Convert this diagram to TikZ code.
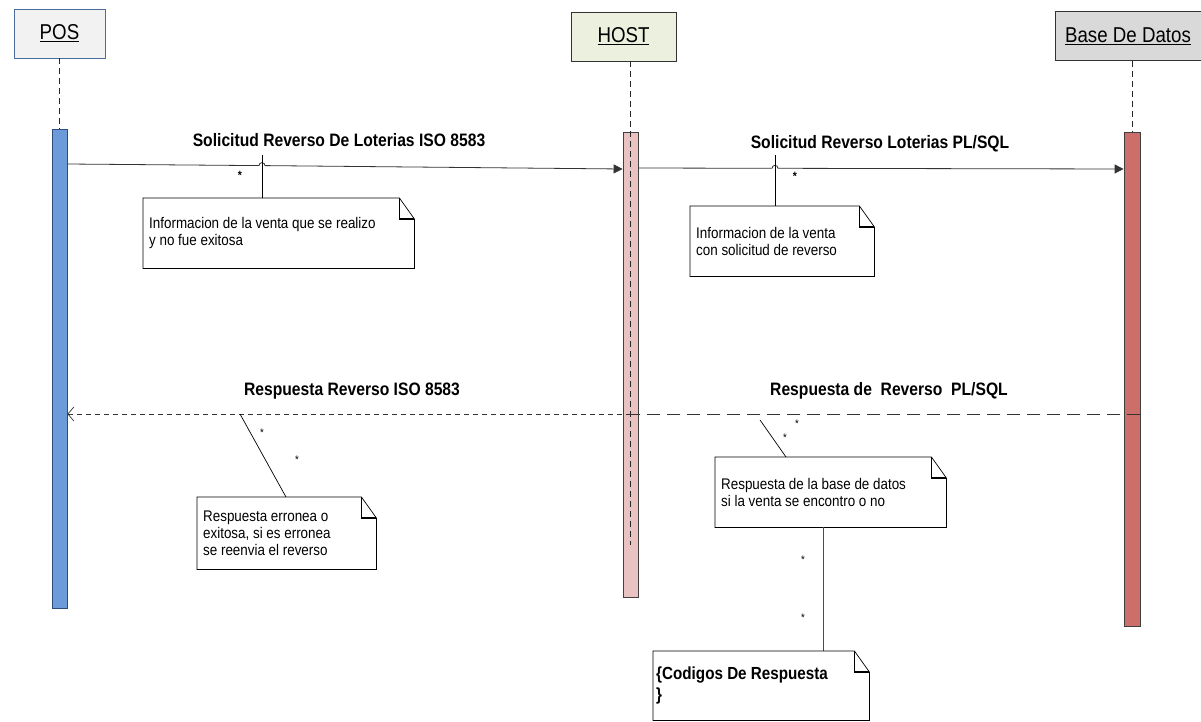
\documentclass[tikz,border=0pt]{standalone}
\usepackage{fontspec}
\setmainfont[FakeStretch=0.87]{Liberation Sans}
\usetikzlibrary{arrows.meta,calc}
\definecolor{posfill}{HTML}{F2F2F2}
\definecolor{posdraw}{HTML}{4A6D9C}
\definecolor{hostfill}{HTML}{EBF1DE}
\definecolor{dbfill}{HTML}{D9D9D9}
\definecolor{posbarfill}{HTML}{6C9BD9}
\definecolor{posbardraw}{HTML}{2F4C7A}
\definecolor{hostbarfill}{HTML}{E8C3C2}
\definecolor{dbbarfill}{HTML}{CC6F6A}
\definecolor{msgline}{HTML}{333333}
\tikzset{
  head/.style={draw=black!80, line width=0.8pt, minimum height=49pt, inner sep=0pt, font=\fontsize{21.5}{24}\selectfont},
  actbar/.style={draw=black!75, line width=0.8pt, minimum width=15pt, inner sep=0pt},
  lifeline/.style={dashed, dash pattern=on 6pt off 4pt, line width=0.7pt, draw=black!85},
  msg/.style={draw=msgline, line width=0.8pt},
  msglabel/.style={font=\bfseries\fontsize{18}{20}\selectfont, inner sep=0pt},
  notearea/.style={draw=none, inner sep=0pt, anchor=north west},
  notetext/.style={anchor=west, align=left, inner sep=0pt, font=\fontsize{15.4}{17}\selectfont},
  noteline/.style={draw=black, line width=0.7pt},
  star/.style={font=\fontsize{11}{11}\selectfont, inner sep=0pt},
}
\newcommand\drawnote[1]{%
  \draw[noteline, fill=white] (#1.north west) -- ([xshift=-15pt]#1.north east) -- ([yshift=-21pt]#1.north east) -- (#1.south east) -- (#1.south west) -- cycle;
  \draw[line width=1.3pt] ([xshift=-15pt]#1.north east) -- ([xshift=-15pt,yshift=-21pt]#1.north east) -- ([yshift=-21pt]#1.north east);
}
\begin{document}
\begin{tikzpicture}[x=1pt,y=-1pt]
\useasboundingbox (0,0) rectangle (1201,722);
% heads
\node[head, fill=posfill, draw=posdraw, minimum width=91pt] (pos) at (59.5,33.5) {\underline{POS}};
\node[head, fill=hostfill, minimum width=105pt] (host) at (623.5,36.5) {\underline{HOST}};
\node[head, fill=dbfill, minimum width=146pt] (db) at (1128,36) {\underline{Base De Datos}};
% bars
\node[actbar, fill=posbarfill, draw=posbardraw, minimum height=479pt] (posbar) at (59.5,368.5) {};
\node[actbar, fill=hostbarfill, minimum height=465pt] (hostbar) at (630.5,364.5) {};
\node[actbar, fill=dbbarfill, minimum height=494pt, minimum width=16pt] (dbbar) at (1132,379) {};
% lifelines
\draw[lifeline] (pos.south -| posbar) -- (posbar.north);
\coordinate (hostend) at (630.5,545);
\draw[lifeline] (host.south -| hostbar) -- (hostend);
\draw[lifeline] (db.south -| dbbar) -- (dbbar.north);
% message 1
\coordinate (m1a) at (0,164);
\coordinate (m1b) at (0,169);
\draw[msg, -{Triangle[length=9pt,width=9pt]}] (posbar.east |- m1a) -- (259,165.6) arc[start angle=180,end angle=0,radius=3pt] -- (hostbar.west |- m1b);
\node[msglabel] (l1) at (339,140) {Solicitud Reverso De Loterias ISO 8583};
% message 2
\coordinate (m2a) at (0,168);
\coordinate (m2b) at (0,169);
\draw[msg, -{Triangle[length=9pt,width=9pt]}] (hostbar.east |- m2a) -- (772,168.3) arc[start angle=180,end angle=0,radius=3pt] -- (dbbar.west |- m2b);
\node[msglabel] (l2) at (880,144) {Solicitud Reverso Loterias PL/SQL};
% return messages
\coordinate (r) at (0,414);
\draw[msg, dash pattern=on 13pt off 7pt] (dbbar.east |- r) -- (hostbar |- r);
\draw[msg, line width=0.7pt, dash pattern=on 5pt off 4pt, -{Straight Barb[length=6pt,width=14pt]}] (hostbar |- r) -- (posbar.east |- r);
\node[msglabel] (l3) at (352,391) {Respuesta Reverso ISO 8583};
\node[msglabel] (l4) at (889,391) {Respuesta de\ \ Reverso\ \ PL/SQL};
% note 1
\node[notearea, minimum width=271pt, minimum height=70pt] (n1) at (143,198) {};
\coordinate (c1) at (262,155);
\draw[noteline] (c1) -- (c1 |- n1.north);
\drawnote{n1}
\node[notetext] (t1) at ([xshift=6pt]n1.west) {Informacion de la venta que se realizo\\y no fue exitosa};
\node[star, font=\bfseries\fontsize{12}{12}\selectfont] (s1) at (240,175) {*};
% note 2
\node[notearea, minimum width=184pt, minimum height=70pt] (n2) at (690,206) {};
\coordinate (c2) at (775,155);
\draw[noteline] (c2) -- (c2 |- n2.north);
\drawnote{n2}
\node[notetext] (t2) at ([xshift=6pt]n2.west) {Informacion de la venta\\con solicitud de reverso};
\node[star, font=\bfseries\fontsize{12}{12}\selectfont] (s2) at (795,176) {*};
% note 3
\node[notearea, minimum width=179pt, minimum height=72pt] (n3) at (197,497) {};
\coordinate (c3a) at (240,414);
\coordinate (c3b) at (286,497);
\draw[noteline] (c3a) -- (c3b);
\drawnote{n3}
\node[notetext] (t3) at ([xshift=6pt]n3.west) {Respuesta erronea o\\exitosa, si es erronea\\se reenvia el reverso};
\node[star] (s3) at (262,433) {*};
\node[star] (s4) at (297,460) {*};
% note 4
\node[notearea, minimum width=231pt, minimum height=70pt] (n4) at (715,457) {};
\coordinate (c4a) at (760,420);
\coordinate (c4b) at (786,457);
\draw[noteline] (c4a) -- (c4b);
\drawnote{n4}
\node[notetext] (t4) at ([xshift=6pt]n4.west) {Respuesta de la base de datos\\si la venta se encontro o no};
\node[star] (s5) at (797,424) {*};
\node[star] (s6) at (785,438) {*};
% note 5
\node[notearea, minimum width=216pt, minimum height=69pt] (n5) at (653,651) {};
\coordinate (c5) at (823,0);
\draw[noteline, draw=black!70] (c5 |- n4.south) -- (c5 |- n5.north);
\drawnote{n5}
\node[notetext, font=\bfseries\fontsize{17.5}{21}\selectfont] (t5) at ([xshift=3pt]n5.west) {\{Codigos De Respuesta\\\}};
\node[star] (s7) at (803,560) {*};
\node[star] (s8) at (803,618) {*};
\end{tikzpicture}
\end{document}
